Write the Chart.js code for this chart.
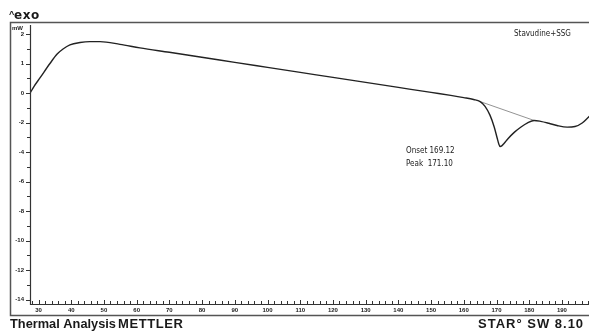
<!DOCTYPE html>
<html>
<head>
<meta charset="utf-8">
<script src="https://cdn.jsdelivr.net/npm/chart.js@4/dist/chart.umd.min.js"></script>
<style>
  html, body { margin: 0; padding: 0; background: #fff; overflow: hidden; width: 589px; height: 331px; }
  #wrap { position: absolute; left: 0; top: 0; width: 625px; height: 331px; }
</style>
</head>
<body>
<div id="wrap"><canvas id="dsc" width="625" height="331"></canvas></div>
<script>
// DSC trace: temperature (°C) and heat flow (mW)
const temps = [27.6, 28.6, 30.5, 33.5, 35.7, 37.5, 39.6, 42.7, 45.7, 48.8, 54.9, 61, 70, 79.4, 90, 100, 110, 120, 130, 140, 150, 156, 160, 163, 165, 166.5, 168, 169.3, 170.2, 170.7, 171.1, 171.6, 172.3, 173.5, 175.5, 177.5, 179.5, 181.5, 183.5, 186, 188.5, 191.6, 194, 196.2, 198.3, 201, 204];
const heatFlow = [0.03, 0.22, 0.52, 1.0, 1.32, 1.49, 1.63, 1.71, 1.74, 1.74, 1.65, 1.53, 1.38, 1.22, 1.04, 0.87, 0.70, 0.53, 0.36, 0.19, 0.02, -0.16, -0.31, -0.44, -0.58, -0.9, -1.5, -2.3, -3.05, -3.45, -3.62, -3.58, -3.42, -3.1, -2.65, -2.3, -2.02, -1.86, -1.92, -2.05, -2.20, -2.31, -2.27, -2.03, -1.6, -1.15, -0.75];

// integration baseline under the melting peak
const baselineTemps = [165, 181.5];
const baselineFlow = [-0.58, -1.86];

// axis ticks
const xTickValues = [30, 40, 50, 60, 70, 80, 90, 100, 110, 120, 130, 140, 150, 160, 170, 180, 190, 200];
const yTickValues = [2, 1, 0, -2, -4, -6, -8, -10, -12, -14];

// peak evaluation
const onsetTemp = 169.12;
const peakTemp = 171.10;
const sampleName = 'Stavudine+SSG';

// the mW axis is spaced 1 mW per step above zero and 2 mW per step below
const toAxis = v => (v >= 0 ? v : v / 2);

const curve = temps.map((t, i) => ({ x: t, y: toAxis(heatFlow[i]) }));
const baseline = baselineTemps.map((t, i) => ({ x: t, y: toAxis(baselineFlow[i]) }));

const INK = '#1a1a1a';
const FRAME = '#555';

const decorations = {
  id: 'decorations',
  beforeDraw(chart) {
    const { ctx } = chart;
    ctx.save();
    ctx.fillStyle = '#fff';
    ctx.fillRect(0, 0, chart.width, chart.height);
    // outer frame
    ctx.strokeStyle = FRAME;
    ctx.lineWidth = 1.5;
    ctx.beginPath();
    ctx.moveTo(chart.width - 5, 22.5);
    ctx.lineTo(10.5, 22.5);
    ctx.lineTo(10.5, 315.5);
    ctx.lineTo(chart.width - 5, 315.5);
    ctx.stroke();
    ctx.restore();
  },
  afterDraw(chart) {
    const { ctx, chartArea: a, scales } = chart;
    const xs = scales.x, ys = scales.y;
    ctx.save();
    // axis lines
    ctx.strokeStyle = '#333';
    ctx.lineWidth = 1.2;
    ctx.beginPath();
    ctx.moveTo(a.left + 0.5, a.top);
    ctx.lineTo(a.left + 0.5, a.bottom + 0.5);
    ctx.lineTo(a.right, a.bottom + 0.5);
    ctx.stroke();
    // x ticks point up into the plot, minor every 2 °C
    ctx.lineWidth = 1;
    ctx.beginPath();
    for (let t = 28; t <= 204; t += 2) {
      const px = Math.round(xs.getPixelForValue(t)) + 0.5;
      const len = t % 10 === 0 ? 4 : 3;
      ctx.moveTo(px, a.bottom);
      ctx.lineTo(px, a.bottom - len);
    }
    // y ticks point left, minor at half steps
    for (let p = 2; p >= -7; p -= 0.5) {
      const py = Math.round(ys.getPixelForValue(p)) + 0.5;
      const len = Number.isInteger(p) ? 4 : 3;
      ctx.moveTo(a.left, py);
      ctx.lineTo(a.left - len, py);
    }
    ctx.stroke();

    // titles and captions
    ctx.fillStyle = INK;
    ctx.textBaseline = 'alphabetic';
    ctx.font = 'bold 9px "Liberation Sans", Arial, sans-serif';
    ctx.fillText('^', 9, 17);
    ctx.font = 'bold 12px "DejaVu Sans", sans-serif';
    ctx.letterSpacing = '0.5px';
    ctx.fillText('exo', 14, 19);
    ctx.letterSpacing = '0px';
    ctx.font = 'bold 6px "Liberation Sans", Arial, sans-serif';
    ctx.fillText('mW', 12, 30);

    ctx.font = 'bold 12.8px "Liberation Sans", Arial, sans-serif';
    ctx.fillText('Thermal Analysis', 10, 328);
    ctx.font = 'bold 13px "Liberation Sans", Arial, sans-serif';
    ctx.letterSpacing = '0.6px';
    ctx.fillText('METTLER', 118, 328);
    ctx.letterSpacing = '1px';
    ctx.fillText('STAR\u00B0 SW 8.10', 478, 328);
    ctx.letterSpacing = '0px';

    ctx.fillStyle = '#222';
    ctx.font = '8px "DejaVu Sans Condensed", "DejaVu Sans", sans-serif';
    ctx.fillText(sampleName, 514, 36);
    ctx.fillText('Onset ' + onsetTemp.toFixed(2), 406, 153);
    ctx.fillText('Peak  ' + peakTemp.toFixed(2), 406, 166);
    ctx.restore();
  }
};

new Chart(document.getElementById('dsc'), {
  type: 'scatter',
  data: {
    datasets: [
      {
        data: curve,
        showLine: true,
        borderColor: '#222',
        borderWidth: 1.4,
        pointRadius: 0,
        cubicInterpolationMode: 'monotone',
        order: 1
      },
      {
        data: baseline,
        showLine: true,
        borderColor: '#777',
        borderWidth: 0.8,
        pointRadius: 0,
        order: 2
      }
    ]
  },
  options: {
    responsive: false,
    animation: false,
    events: [],
    layout: { padding: { left: 10, top: 25, right: 14, bottom: 15 } },
    plugins: { legend: { display: false }, tooltip: { enabled: false } },
    scales: {
      x: {
        type: 'linear',
        min: 27.4,
        max: 205,
        afterFit(s) { s.height = 12; },
        afterBuildTicks(s) { s.ticks = xTickValues.map(v => ({ value: v })); },
        grid: { display: false, drawTicks: false },
        border: { display: false },
        ticks: {
          padding: 3,
          color: INK,
          maxRotation: 0,
          autoSkip: false,
          font: { family: '"Liberation Sans", Arial, sans-serif', size: 6, weight: 'bold' },
          callback: v => String(v)
        }
      },
      y: {
        type: 'linear',
        min: -7.15,
        max: 2.305,
        afterFit(s) { s.width = 20; },
        afterBuildTicks(s) { s.ticks = yTickValues.map(v => ({ value: toAxis(v) })); },
        grid: { display: false, drawTicks: false },
        border: { display: false },
        ticks: {
          padding: 6,
          color: INK,
          autoSkip: false,
          font: { family: '"Liberation Sans", Arial, sans-serif', size: 6, weight: 'bold' },
          callback: (v, i) => String(yTickValues[i])
        }
      }
    }
  },
  plugins: [decorations]
});
</script>
</body>
</html>
